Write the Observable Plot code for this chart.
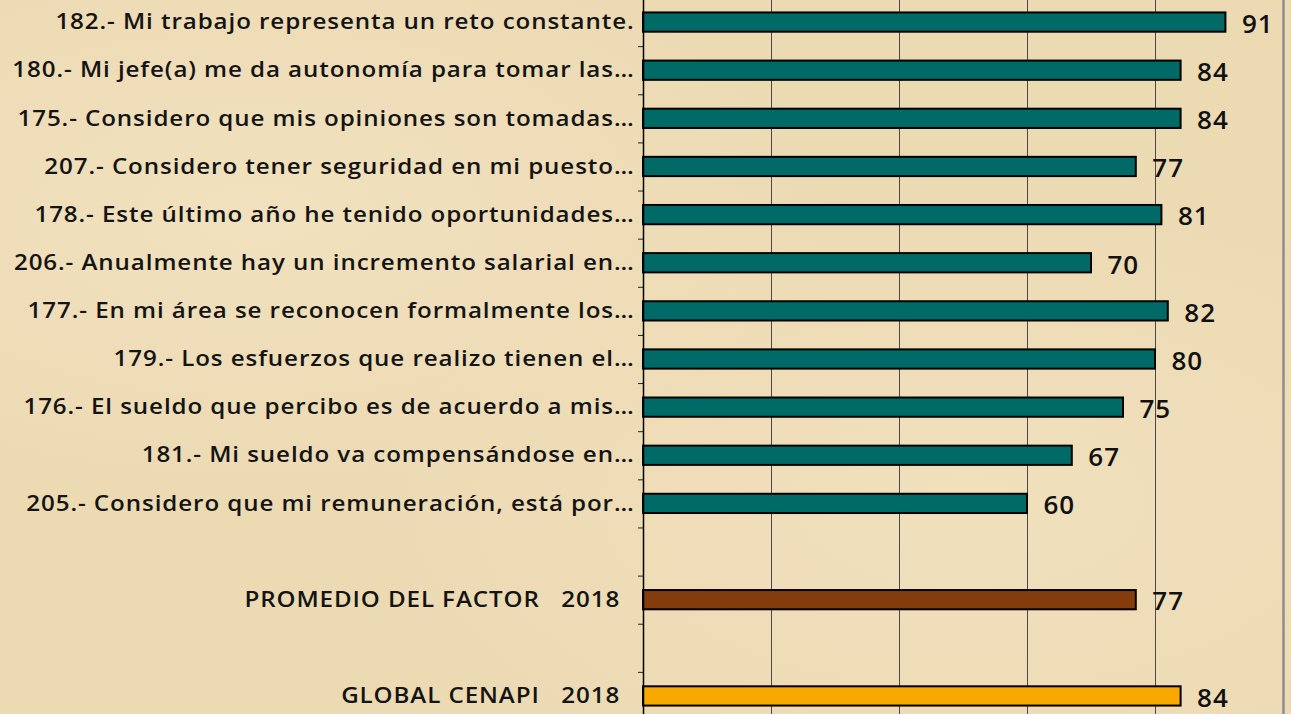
<!DOCTYPE html>
<html>
<head>
<meta charset="utf-8">
<script src="https://cdn.jsdelivr.net/npm/d3@7"></script>
<script src="https://cdn.jsdelivr.net/npm/@observablehq/plot@0.6"></script>
<style>
  html, body { margin: 0; padding: 0; }
  body {
    width: 1291px; height: 714px; overflow: hidden;
    background-color: #ecdab3;
    background-image:
      radial-gradient(ellipse at 20% 30%, rgba(250,238,210,0.35), rgba(250,238,210,0) 40%),
      radial-gradient(ellipse at 75% 70%, rgba(250,238,210,0.3), rgba(250,238,210,0) 45%);
  }
  #chart svg { display: block; background: transparent; }
  .lbl text { letter-spacing: 0.8px; }
  .val text { letter-spacing: 1px; }
</style>
</head>
<body>
<div id="chart"></div>
<script>
const NB = "\u00a0";
const labels = [
  "182.- Mi trabajo representa un reto constante.",
  "180.- Mi jefe(a) me da autonomía para tomar las…",
  "175.- Considero que mis opiniones son tomadas…",
  "207.- Considero tener seguridad en mi puesto…",
  "178.- Este último año he tenido oportunidades…",
  "206.- Anualmente hay un incremento salarial en…",
  "177.- En mi área se reconocen formalmente los…",
  "179.- Los esfuerzos que realizo tienen el…",
  "176.- El sueldo que percibo es de acuerdo a mis…",
  "181.- Mi sueldo va compensándose en…",
  "205.- Considero que mi remuneración, está por…",
  "",
  "PROMEDIO DEL FACTOR" + NB + NB + NB + "2018" + NB + NB,
  "",
  "GLOBAL CENAPI" + NB + NB + NB + "2018" + NB + NB
];
const values = [91, 84, 84, 77, 81, 70, 82, 80, 75, 67, 60, null, 77, null, 84];
const kinds = ["item","item","item","item","item","item","item","item","item","item","item","blank","factor","blank","global"];
const colors = {item: "#006a66", factor: "#843c0c", global: "#f9a800"};
const gridTicks = [20, 40, 60, 80];

const rows = labels.map((label, i) => ({i, label, value: values[i], kind: kinds[i]}));
const bars = rows.filter(d => d.value != null);
const boundaries = rows.slice(1).map(d => d.i - 0.5);

const font = "'Open Sans', Lato, sans-serif";
const labelGap = 9;
const stretch = 1.15;

const chart = Plot.plot({
  width: 1291,
  height: 714,
  marginLeft: 643,
  marginRight: 8,
  marginTop: 0,
  marginBottom: 0,
  style: {fontFamily: font, background: "transparent", overflow: "hidden"},
  x: {domain: [0, 100], axis: null},
  y: {type: "linear", domain: [-0.5, labels.length - 0.5], range: [-2, 720], axis: null},
  color: {domain: Object.keys(colors), range: Object.values(colors)},
  marks: [
    Plot.ruleX(gridTicks, {stroke: "#4a4a4a", strokeWidth: 1}),
    Plot.ruleX([100], {stroke: "#8e8e8e", strokeWidth: 2.5}),
    Plot.axisY({ticks: boundaries, tickFormat: () => "", tickSize: 5, stroke: "#222", anchor: "left", label: null}),
    Plot.rectX(bars, {
      x1: 0, x2: "value",
      y1: d => d.i - 0.2, y2: d => d.i + 0.2,
      fill: "kind", stroke: "#000", strokeWidth: 2
    }),
    Plot.ruleX([0], {stroke: "#000", strokeWidth: 1.5}),
    Plot.text(rows, {
      x: 0, y: "i", text: "label", textAnchor: "end", dx: -labelGap,
      fontSize: 21, fontWeight: 600, fill: "#141414", className: "lbl"
    }),
    Plot.text(bars, {
      x: "value", y: "i", text: d => String(d.value), textAnchor: "start", dx: 16, dy: 2,
      fontSize: 26, fontWeight: 600, fill: "#111", className: "val"
    })
  ]
});

// widen the category labels horizontally around their right anchor (Raleway-like proportions)
const svgns = "http://www.w3.org/2000/svg";
const anchorX = chart.scale("x").apply(0) - labelGap;
const lblNode = chart.querySelector("g.lbl");
if (lblNode) {
  const wrap = document.createElementNS(svgns, "g");
  lblNode.parentNode.insertBefore(wrap, lblNode);
  wrap.appendChild(lblNode);
  wrap.setAttribute("transform", `translate(${anchorX},0) scale(${stretch},1) translate(${-anchorX},0)`);
}
document.getElementById("chart").appendChild(chart);
</script>
</body>
</html>
